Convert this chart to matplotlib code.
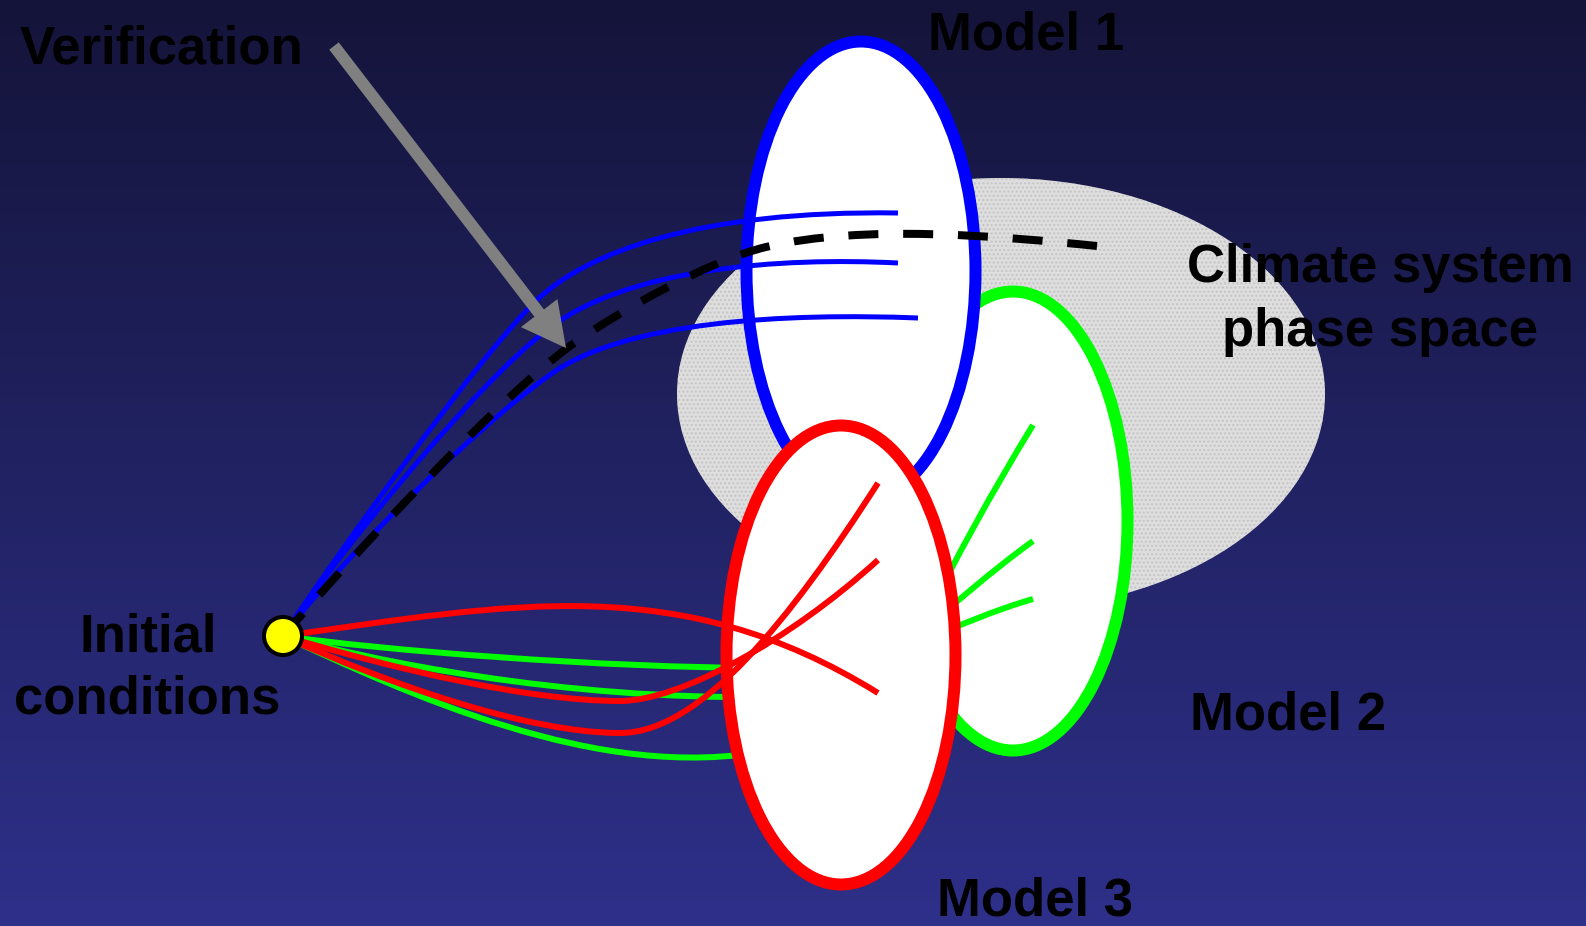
import numpy as np
import matplotlib
matplotlib.use('Agg')
import matplotlib.pyplot as plt
from matplotlib.patches import Ellipse, Circle, PathPatch, FancyArrow
from matplotlib.path import Path

plt.rcParams['font.family'] = ['Liberation Sans', 'DejaVu Sans']

# figure is laid out in pixel units (x right, y down)
W, H = 1586, 926

# phase-space blob and the three model ellipses: centre x, centre y, width, height
phase_space = (1001, 394, 648, 432)
model1_ell = (861, 271, 229, 459)
model2_ell = (1013, 521, 229, 459)
model3_ell = (841, 655, 229, 459)

initial_point = (283, 636)

# trajectories as cubic bezier control points (start, c1, c2, end, c1, c2, end ...)
model1_traj = [
    [(283, 636), (333, 560), (479, 355), (537, 300), (587, 252), (700, 210), (898, 213)],
    [(283, 636), (333, 560), (475, 384), (547, 330), (625, 268), (780, 257), (898, 263)],
    [(283, 636), (337, 563), (481, 423), (547, 377), (621, 320), (790, 313), (918, 318)],
]
verification_traj = [(283, 636), (349, 560), (497, 399), (570, 346), (619, 311), (708, 261),
                     (766, 247), (863, 224), (998, 236), (1097, 246)]
model2_traj = [
    [(283, 636), (380, 650), (600, 668), (770, 668)],
    [(283, 636), (370, 660), (560, 700), (770, 697)],
    [(283, 636), (400, 690), (600, 785), (770, 750)],
]
model2_ends = [
    [(925, 620), (955, 560), (990, 495), (1033, 425)],
    [(920, 632), (950, 608), (990, 572), (1033, 541)],
    [(920, 642), (960, 625), (995, 610), (1033, 599)],
]
model3_traj = [
    [(283, 636), (511, 604), (680, 570), (878, 693)],
    [(283, 636), (398, 670), (530, 701), (620, 701), (680, 701), (790, 640), (878, 560)],
    [(283, 636), (390, 685), (530, 733), (620, 733), (700, 733), (790, 620), (878, 483)],
]

verif_arrow = [(334, 46), (566, 348)]

labels = ["Verification", "Model 1", "Climate system", "phase space",
          "Initial", "conditions", "Model 2", "Model 3"]
label_pos = [(20, 63, 'left'), (928, 49, 'left'), (1380, 282, 'center'), (1380, 346, 'center'),
             (148, 652, 'center'), (147, 713, 'center'), (1190, 730, 'left'), (937, 915, 'left')]

PX = 0.72  # points per pixel at dpi 100


def bezier(ax, pts, **kw):
    codes = [Path.MOVETO] + [Path.CURVE4] * (len(pts) - 1)
    ax.add_patch(PathPatch(Path(pts, codes), fill=False, capstyle='butt', **kw))


def ellipse(ax, e, color):
    ax.add_patch(Ellipse((e[0], e[1]), e[2], e[3], facecolor='white',
                         edgecolor=color, lw=12 * PX))


fig = plt.figure(figsize=(W / 100, H / 100), dpi=100)
ax = fig.add_axes([0, 0, 1, 1])
ax.set_xlim(0, W)
ax.set_ylim(H, 0)
ax.axis('off')

# background gradient
top = np.array([20, 20, 58]) / 255
bot = np.array([46, 48, 138]) / 255
g = np.linspace(0, 1, 256)[:, None, None]
grad = top + (bot - top) * g
ax.imshow(grad, extent=[0, W, H, 0], aspect='auto', zorder=0)

ax.add_patch(Ellipse((phase_space[0], phase_space[1]), phase_space[2], phase_space[3],
                     facecolor='#dedede', edgecolor='#c4c4c4', lw=0, hatch='....', zorder=1))

ellipse(ax, model2_ell, '#00ff00')
for p in model2_ends:
    bezier(ax, p, edgecolor='#00ff00', lw=6 * PX)

ellipse(ax, model1_ell, '#0000ff')
for p in model1_traj:
    bezier(ax, p, edgecolor='#0000ff', lw=5 * PX)
bezier(ax, verification_traj, edgecolor='black', lw=8 * PX, linestyle=(0, (3.75, 3.1)))

for p in model2_traj:
    bezier(ax, p, edgecolor='#00ff00', lw=6 * PX)

ellipse(ax, model3_ell, '#ff0000')
for p in model3_traj:
    bezier(ax, p, edgecolor='#ff0000', lw=6 * PX)

ax.add_patch(Circle(initial_point, 19, facecolor='#ffff00', edgecolor='black', lw=4 * PX, zorder=5))

(x0, y0), (x1, y1) = verif_arrow
ax.add_patch(FancyArrow(x0, y0, x1 - x0, y1 - y0, width=12, head_width=46, head_length=44,
                        length_includes_head=True, color='#808080', lw=0, zorder=6))

for txt, (x, y, ha) in zip(labels, label_pos):
    ax.text(x, y, txt, ha=ha, va='baseline', fontsize=38, fontweight='bold',
            color='black', zorder=7)

fig.savefig('out.png', dpi=100)
